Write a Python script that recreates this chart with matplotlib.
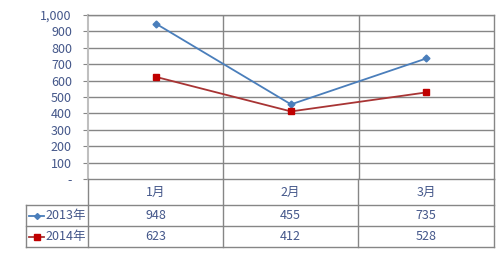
import numpy as np
import matplotlib.pyplot as plt
from matplotlib.lines import Line2D
from matplotlib.transforms import Affine2D

plt.rcParams['font.family'] = ['Noto Sans CJK SC', 'DejaVu Sans']

months = ['1月', '2月', '3月']
series_names = ['2013年', '2014年']
v2013 = [948, 455, 735]
v2014 = [623, 412, 528]
yticks = [0, 100, 200, 300, 400, 500, 600, 700, 800, 900, 1000]

txt_color = '#44578A'
grid_color = '#868686'
blue = '#4A7EBB'
red_line = '#A83434'
red_mark = '#C00000'

W, H = 500, 256
fig = plt.figure(figsize=(W / 100, H / 100), dpi=100)
# pixel coords (origin top-left) -> figure
pix = Affine2D().scale(1 / W, -1 / H).translate(0, 1) + fig.transFigure

left, right, top, bottom = 88, 494, 15, 179
ax = fig.add_axes([left / W, 1 - bottom / H, (right - left) / W, (bottom - top) / H])
ax.set_xlim(0, 3)
ax.set_ylim(0, 1000)
ax.set_yticks(yticks)
ax.set_yticklabels(['-' if t == 0 else f'{t:,}' for t in yticks],
                   color=txt_color, fontsize=9)
ax.tick_params(axis='y', length=3.6, color=grid_color, pad=8)
ax.set_xticks([])
for t in yticks[1:]:
    ax.axhline(t, color=grid_color, lw=1, zorder=1)
for x in [1, 2]:
    ax.axvline(x, color=grid_color, lw=1, zorder=1)
for s in ['top', 'right', 'bottom']:
    ax.spines[s].set_color(grid_color)
    ax.spines[s].set_linewidth(1)
ax.spines['left'].set_color('#BFBFBF')
ax.spines['left'].set_linewidth(1.5)

xs = np.arange(len(months)) + 0.5
ax.plot(xs, v2013, color=blue, lw=1.3, marker='D', ms=3.5, zorder=3)
ax.plot(xs, v2014, color=red_line, lw=1.3, marker='s', ms=4.5,
        mfc=red_mark, mec=red_mark, zorder=3)

# data table under the chart
def seg(x0, y0, x1, y1):
    fig.add_artist(Line2D([x0, x1], [y0, y1], transform=pix, color=grid_color, lw=1))

rows = [179, 205, 226, 247]
cols = [left, 223, 358, right]
for y in rows[1:]:
    seg(26, y, right, y)
seg(26, rows[1], 26, rows[-1])
for x in cols:
    seg(x, bottom, x, rows[-1])

centers = [(cols[i] + cols[i + 1]) / 2 for i in range(3)]
for c, m in zip(centers, months):
    fig.text(c, (rows[0] + rows[1]) / 2, m, transform=pix, ha='center',
             va='center', fontsize=9, color=txt_color)

styles = [(blue, blue, 'D', 3), (red_line, red_mark, 's', 4.5)]
for i, (name, vals) in enumerate(zip(series_names, [v2013, v2014])):
    yc = (rows[i + 1] + rows[i + 2]) / 2
    lc, mc, mk, ms = styles[i]
    fig.add_artist(Line2D([29, 44], [yc, yc], transform=pix, color=lc, lw=1.3))
    fig.add_artist(Line2D([36.5], [yc], transform=pix, color=mc, marker=mk,
                          ms=ms, mfc=mc, mec=mc))
    fig.text(45, yc, name, transform=pix, ha='left', va='center',
             fontsize=9, color=txt_color)
    for c, v in zip(centers, vals):
        fig.text(c, yc, str(v), transform=pix, ha='center', va='center',
                 fontsize=9, color=txt_color)

fig.savefig('out.png', dpi=100)
